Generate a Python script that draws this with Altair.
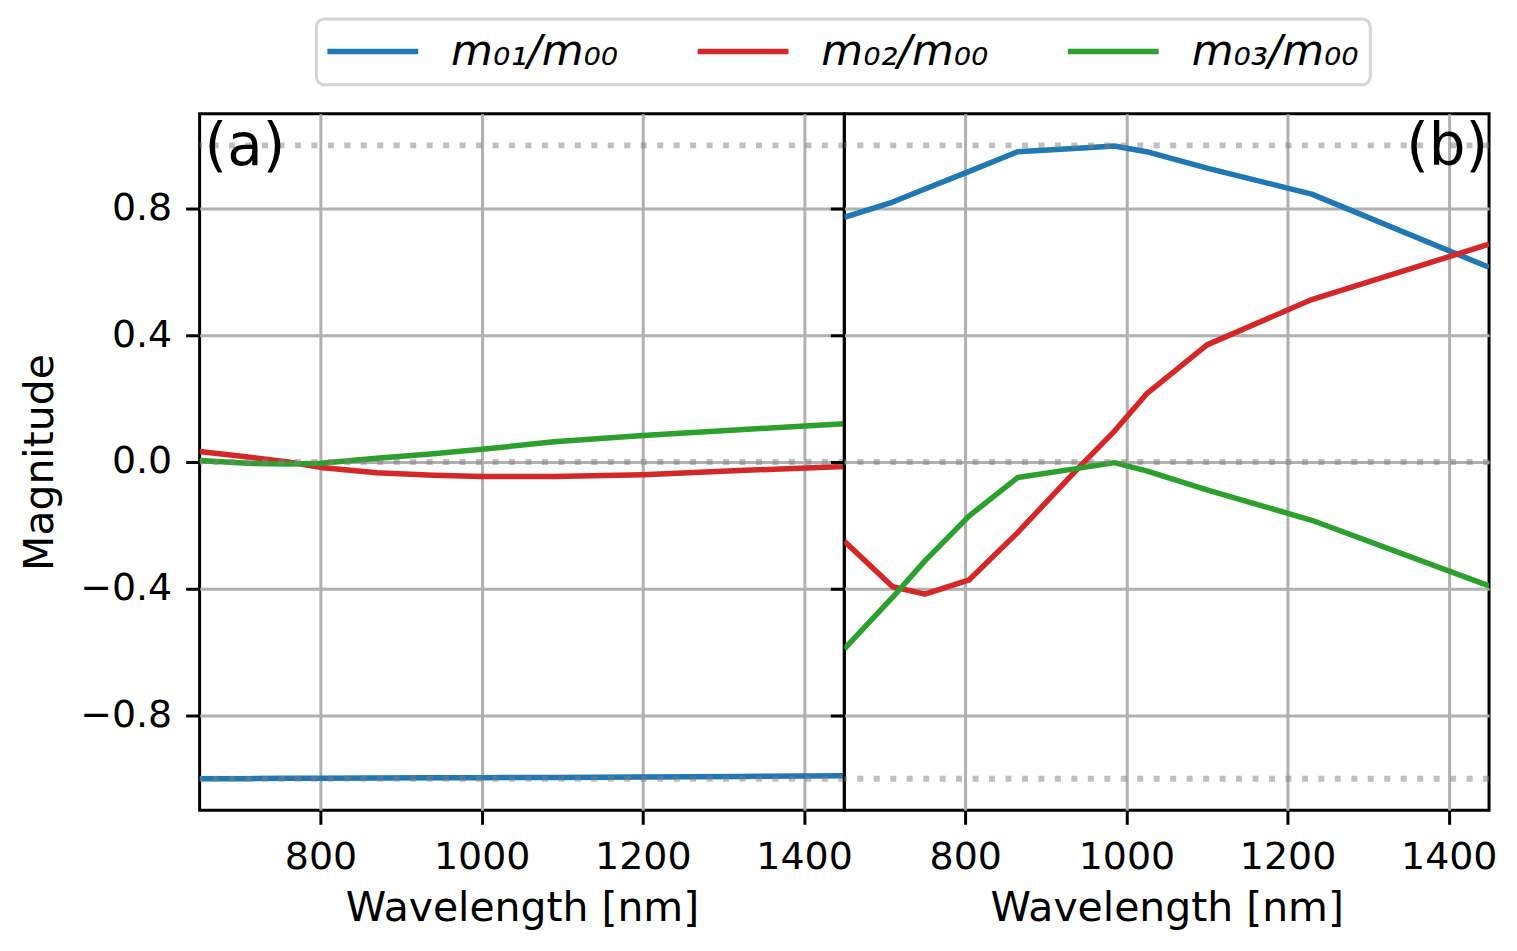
import pandas as pd
import altair as alt

BLUE = "#1f77b4"
RED = "#d62728"
GREEN = "#2ca02c"
FONT = "DejaVu Sans"

SERIES = ["m₀₁/m₀₀", "m₀₂/m₀₀", "m₀₃/m₀₀"]

# panel (a)
WL_A = [650, 710, 760, 800, 870, 940, 1000, 1090, 1200, 1320, 1450]
M01_A = [-1.0, -1.0, -0.999, -0.999, -0.998, -0.997, -0.997, -0.996, -0.995, -0.993, -0.991]
M02_A = [0.033, 0.016, 0.0, -0.017, -0.034, -0.042, -0.046, -0.046, -0.040, -0.027, -0.014]
M03_A = [0.005, -0.004, -0.006, -0.004, 0.012, 0.026, 0.040, 0.064, 0.084, 0.102, 0.121]

# panel (b)
WL_B = [650, 710, 750, 805, 865, 940, 985, 1025, 1100, 1230, 1450]
M01_B = [0.773, 0.821, 0.862, 0.918, 0.980, 0.991, 0.998, 0.980, 0.928, 0.846, 0.615]
M02_B = [-0.250, -0.394, -0.417, -0.372, -0.223, -0.020, 0.097, 0.215, 0.370, 0.513, 0.688]
M03_B = [-0.590, -0.427, -0.312, -0.170, -0.049, -0.020, -0.002, -0.028, -0.088, -0.184, -0.391]

REF_LEVELS = [1.0, 0.0, -1.0]
X_TICKS = [800, 1000, 1200, 1400]
Y_TICKS = [-0.8, -0.4, 0.0, 0.4, 0.8]


def long_frame(wl, cols):
    rows = []
    for name, vals in zip(SERIES, cols):
        for w, v in zip(wl, vals):
            rows.append({"wl": w, "series": name, "value": v})
    return pd.DataFrame(rows)


df_a = long_frame(WL_A, [M01_A, M02_A, M03_A])
df_b = long_frame(WL_B, [M01_B, M02_B, M03_B])
ref_df = pd.DataFrame({"level": REF_LEVELS})

W, H = 646, 698

color = alt.Color(
    "series:N",
    scale=alt.Scale(domain=SERIES, range=[BLUE, RED, GREEN]),
    sort=SERIES,
    title=None,
)


def panel(df, tag, left):
    x = alt.X("wl:Q", scale=alt.Scale(domain=[650, 1450], nice=False, zero=False),
              axis=alt.Axis(values=X_TICKS, format="d", title="Wavelength [nm]"))
    if left:
        yax = alt.Axis(values=Y_TICKS, format=".1f", title="Magnitude")
    else:
        yax = alt.Axis(values=Y_TICKS, labels=False, title=None)
    y = alt.Y("value:Q", scale=alt.Scale(domain=[-1.1, 1.1], nice=False, zero=False), axis=yax)

    lines = (
        alt.Chart(df)
        .mark_line(strokeWidth=5.5, strokeJoin="round", clip=True)
        .encode(x=x, y=y, color=color, order=alt.Order("wl:Q"))
    )
    refs = (
        alt.Chart(ref_df)
        .mark_rule(color="gray", opacity=0.5, strokeWidth=6, strokeDash=[6, 10.5])
        .encode(y=alt.Y("level:Q"))
    )
    if left:
        label = alt.Chart(pd.DataFrame({"t": [tag]})).mark_text(
            align="left", baseline="top", fontSize=58, font=FONT, color="black"
        ).encode(x=alt.value(5), y=alt.value(5), text="t:N")
    else:
        label = alt.Chart(pd.DataFrame({"t": [tag]})).mark_text(
            align="right", baseline="top", fontSize=58, font=FONT, color="black"
        ).encode(x=alt.value(W - 1), y=alt.value(5), text="t:N")
    return alt.layer(lines, refs, label).properties(width=W, height=H)


chart = (
    alt.hconcat(panel(df_a, "(a)", True), panel(df_b, "(b)", False),
                spacing=0, bounds="flush")
    .properties(padding={"left": 10, "top": 8, "right": 10, "bottom": 5})
    .configure_view(stroke="black", strokeWidth=3)
    .configure_axis(
        labelFont=FONT, titleFont=FONT, labelFontSize=38, titleFontSize=41,
        labelColor="black", titleColor="black", titleFontWeight="normal",
        grid=True, gridColor="#b0b0b0", gridWidth=3,
        domain=False, tickColor="black", tickWidth=3, tickSize=14,
        labelPadding=14,
    )
    .configure_axisY(titlePadding=18)
    .configure_axisX(titlePadding=12)
    .configure_legend(
        orient="none", legendX=117, legendY=-95, direction="horizontal",
        labelFont=FONT, labelFontSize=43, labelFontStyle="italic", labelColor="black",
        labelLimit=400, symbolType="M-2.36,0H7.64", symbolSize=331, symbolStrokeWidth=5.5,
        labelOffset=81, columnPadding=68, padding=11, fillColor="white",
        strokeColor="#d4d4d4", strokeWidth=3, cornerRadius=8,
    )
)

chart.save("out.html", embed_options={"renderer": "svg", "actions": False})
